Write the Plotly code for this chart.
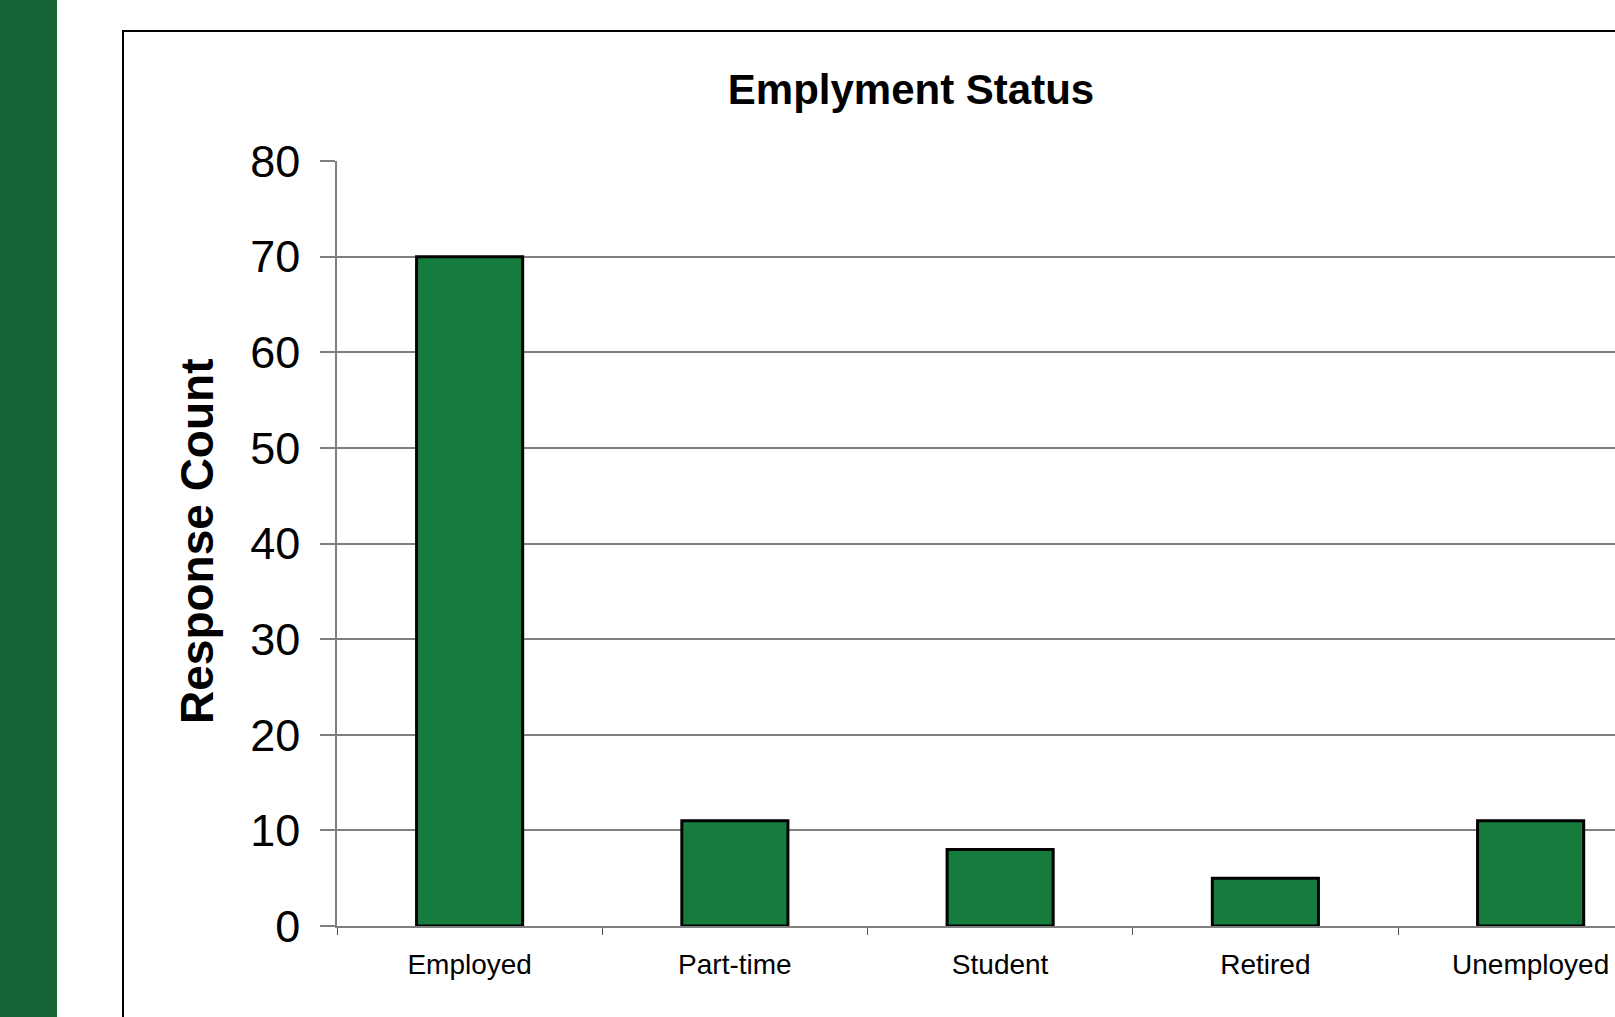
import plotly.graph_objects as go

categories = ["Employed", "Part-time", "Student", "Retired", "Unemployed"]
counts = [70, 11, 8, 5, 11]
y_ticks = [0, 10, 20, 30, 40, 50, 60, 70, 80]
grid_ticks = [10, 20, 30, 40, 50, 60, 70]
title_text = "Emplyment Status"
y_title = "Response Count"

W, H = 1615, 1017
L, R, T, B = 337, 0, 161, 91
pw = W - L - R
ph = H - T - B
cat_step = 265.25

def px_x(p):
    return (p - L) / pw

def px_y(p):
    return (H - B - p) / ph

FONT = "Liberation Sans, Arial, sans-serif"

fig = go.Figure()
fig.add_trace(go.Bar(
    x=categories, y=counts, width=0.4,
    marker=dict(color="rgb(21,124,62)", line=dict(color="black", width=3)),
    yaxis="y",
))

fig.update_layout(
    width=W, height=H,
    margin=dict(l=L, r=R, t=T, b=B, pad=0),
    paper_bgcolor="white", plot_bgcolor="white",
    showlegend=False,
    font=dict(family=FONT, color="black"),
    title=dict(text="<b>" + title_text + "</b>", x=911 / W, xanchor="center",
               y=1 - 89 / H, yanchor="middle",
               font=dict(size=42, family=FONT, color="black")),
    xaxis=dict(
        range=[-0.5, -0.5 + pw / cat_step],
        showline=True, linecolor="#808080", linewidth=1.5,
        ticks="outside", tickson="boundaries", ticklen=7, tickcolor="#555555", tickwidth=1,
        showgrid=False, zeroline=False,
        tickfont=dict(size=28, family=FONT, color="black"),
        ticklabelstandoff=13,
    ),
    yaxis=dict(
        range=[0, 80], tickvals=y_ticks,
        showline=True, linecolor="#808080", linewidth=1.5,
        ticks="outside", ticklen=15, tickcolor="#808080", tickwidth=1.5,
        showgrid=False, zeroline=False,
        tickfont=dict(size=45, family=FONT, color="black"),
        ticklabelstandoff=11,
    ),
    yaxis2=dict(
        overlaying="y", matches="y", range=[0, 80], tickvals=grid_ticks,
        showgrid=True, gridcolor="#808080", gridwidth=1.5,
        showticklabels=False, ticks="", showline=False, zeroline=False,
    ),
)

# invisible trace to activate yaxis2
fig.add_trace(go.Scatter(x=[categories[0]], y=[0], yaxis="y2", mode="markers",
                         marker=dict(opacity=0), hoverinfo="skip"))

fig.add_annotation(
    text="<b>" + y_title + "</b>", textangle=-90,
    xref="paper", yref="paper", x=px_x(197), y=px_y(542),
    xanchor="center", yanchor="middle", showarrow=False,
    font=dict(size=46, family=FONT, color="black"),
)

# green side strip
fig.add_shape(type="rect", xref="paper", yref="paper",
              x0=px_x(0), x1=px_x(57), y0=px_y(H + 5), y1=px_y(-5),
              fillcolor="rgb(19,99,52)", line=dict(width=0), layer="below")
# chart frame
fig.add_shape(type="rect", xref="paper", yref="paper",
              x0=px_x(123), x1=px_x(W + 20), y0=px_y(H + 20), y1=px_y(31),
              fillcolor="rgba(0,0,0,0)", line=dict(color="black", width=2), layer="above")

fig.write_html("out.html")
